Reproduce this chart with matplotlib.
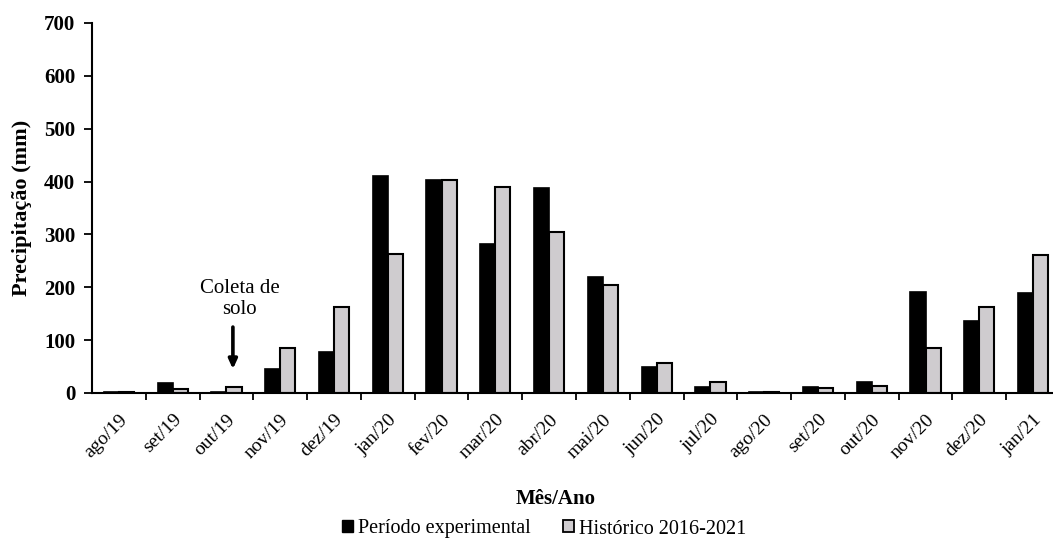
import numpy as np
import matplotlib
matplotlib.use("Agg")
import matplotlib.pyplot as plt
from matplotlib.patches import Patch

meses = ['ago/19', 'set/19', 'out/19', 'nov/19', 'dez/19', 'jan/20', 'fev/20', 'mar/20',
         'abr/20', 'mai/20', 'jun/20', 'jul/20', 'ago/20', 'set/20', 'out/20', 'nov/20',
         'dez/20', 'jan/21']
periodo = [1, 19, 2, 46, 78, 411, 403, 282, 387, 220, 50, 11, 1, 12, 20, 191, 136, 190]
historico = [2, 8, 12, 85, 163, 263, 403, 390, 305, 205, 57, 20, 2, 9, 13, 86, 162, 262]

plt.rcParams['font.family'] = ['Liberation Serif', 'DejaVu Serif']

fig = plt.figure(figsize=(10.53, 5.41), dpi=100)
ax = fig.add_axes([92 / 1053, 148 / 541, 968 / 1053, 370 / 541])

x = np.arange(len(meses))
w = 0.28
ax.bar(x - w / 2, periodo, w, color='black', edgecolor='black', linewidth=1.2)
ax.bar(x + w / 2, historico, w, color='#cfcccf', edgecolor='black', linewidth=1.5)

ax.set_xlim(-0.5, len(meses) - 0.5)
ax.set_ylim(0, 700)
ax.set_yticks(range(0, 701, 100))
ax.set_yticklabels([str(v) for v in range(0, 701, 100)], fontsize=15, fontweight='bold')
ax.tick_params(axis='y', direction='out', length=6, width=1.3, pad=6)

ax.set_xticks(x)
ax.set_xticklabels(meses, rotation=45, ha='right', rotation_mode='anchor', fontsize=14)
ax.set_xticks(np.arange(0.5, len(meses) - 0.5), minor=True)
ax.tick_params(axis='x', which='major', length=0, pad=13)
ax.tick_params(axis='x', which='minor', direction='out', length=5, width=1.3)

for s in ['top', 'right']:
    ax.spines[s].set_visible(False)
for s in ['left', 'bottom']:
    ax.spines[s].set_linewidth(1.5)

ax.set_ylabel('Precipitação (mm)', fontsize=16, fontweight='bold')
ax.yaxis.set_label_coords(-0.062, 0.5)
fig.text(556 / 1053, 1 - 499 / 541, 'Mês/Ano', ha='center', va='center',
         fontsize=15, fontweight='bold')

ax.text(2.25, 178, 'Coleta de\nsolo', ha='center', va='center', fontsize=15,
        linespacing=1.15)
ax.annotate('', xy=(2.12, 40), xytext=(2.12, 130),
            arrowprops=dict(arrowstyle='-|>,head_width=0.25,head_length=0.55',
                            color='black', lw=2.6))

handles = [Patch(facecolor='black', edgecolor='black'),
           Patch(facecolor='#cfcccf', edgecolor='black', linewidth=1.3)]
fig.legend(handles, ['Período experimental', 'Histórico 2016-2021'], loc='center',
           bbox_to_anchor=(544 / 1053, 1 - 529 / 541), ncol=2, frameon=False,
           fontsize=14.5, handlelength=0.55, handleheight=0.55, handletextpad=0.25,
           columnspacing=1.6)

fig.savefig('out.png', dpi=100)
